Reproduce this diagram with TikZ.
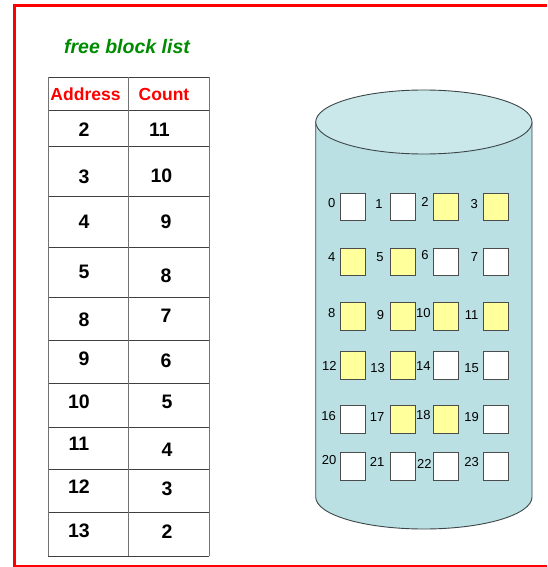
\documentclass[tikz,border=0pt]{standalone}
\usepackage{fontspec}
\setmainfont{Liberation Sans}
\definecolor{frame}{RGB}{255,0,0}
\definecolor{titlegreen}{RGB}{0,140,0}
\definecolor{cylbody}{RGB}{187,224,227}
\definecolor{cyltop}{RGB}{202,232,234}
\definecolor{paleyel}{RGB}{255,255,155}
\definecolor{cyledge}{RGB}{60,70,72}
\begin{document}
\begin{tikzpicture}[x=1pt,y=-1pt,
  cell/.style={font=\fontsize{19.5}{19.5}\selectfont\bfseries, inner sep=0pt, anchor=center},
  head/.style={font=\fontsize{17.5}{17.5}\selectfont\bfseries, text=frame, inner sep=0pt},
  blk/.style={draw=black!70, line width=0.8pt, minimum width=25pt, minimum height=27.5pt, inner sep=0pt, fill=white},
  used/.style={blk, fill=paleyel},
  lab/.style={font=\fontsize{13}{13}\selectfont, inner sep=0pt},
  grid/.style={draw=black!75, line width=0.9pt}]
\useasboundingbox (0,0) rectangle (547,567);
\fill[white] (0,0) rectangle (547,567);
% red frame
\draw[frame, line width=3pt] (547,5.5) -- (14.7,5.5) -- (14.7,565.7);
\draw[frame, line width=1.6pt] (13.2,565.7) -- (547,565.7);
% title
\node[font=\fontsize{19.5}{19.5}\selectfont\bfseries\itshape, text=titlegreen, inner sep=0pt] (title) at (127,47) {free block list};
% table grid
\foreach \yy in {77,110,146,196,247,297,340,383,427,469,512,556}
  \draw[grid] (48,\yy) -- (209,\yy);
\foreach \xx in {48,128.7,209}
  \draw[grid, draw=black!55] (\xx,77) -- (\xx,556);
\node[head] (hA) at (85.5,94) {Address};
\node[head] (hC) at (164,94) {Count};
\node[cell] (a1) at (84,130) {2};   \node[cell] (c1) at (159.5,130) {11};
\node[cell] (a2) at (84,177) {3};   \node[cell] (c2) at (161.5,176) {10};
\node[cell] (a3) at (84,221.5) {4}; \node[cell] (c3) at (166,222) {9};
\node[cell] (a4) at (84,272) {5};   \node[cell] (c4) at (166,275.5) {8};
\node[cell] (a5) at (84,320) {8};   \node[cell] (c5) at (166,316) {7};
\node[cell] (a6) at (84,359) {9};   \node[cell] (c6) at (166,361) {6};
\node[cell] (a7) at (79,401.5) {10}; \node[cell] (c7) at (167,401.5) {5};
\node[cell] (a8) at (79,444) {11};  \node[cell] (c8) at (167,450) {4};
\node[cell] (a9) at (79,486.5) {12}; \node[cell] (c9) at (167,489) {3};
\node[cell] (a10) at (79,531) {13}; \node[cell] (c10) at (167,532) {2};
% cylinder
\path[fill=cylbody, draw=cyledge, line width=0.9pt] (315.7,122) -- (315.7,497)
  arc[start angle=180, end angle=0, x radius=108.15, y radius=32] -- (532,122);
\path[fill=cyltop, draw=cyledge, line width=0.9pt] (423.85,122) ellipse[x radius=108.15, y radius=32];
% blocks
\node[blk]  (b0)  at (353,207) {};
\node[blk]  (b1)  at (402.7,207) {};
\node[used] (b2)  at (446,207) {};
\node[used] (b3)  at (496,207) {};
\node[used] (b4)  at (353,262) {};
\node[used] (b5)  at (402.7,262) {};
\node[blk]  (b6)  at (446,262) {};
\node[blk]  (b7)  at (496,262) {};
\node[used] (b8)  at (353,316.5) {};
\node[used] (b9)  at (402.7,316.5) {};
\node[used] (b10) at (446,316.5) {};
\node[used] (b11) at (496,316.5) {};
\node[used] (b12) at (353,365.3) {};
\node[used] (b13) at (402.7,365.3) {};
\node[blk]  (b14) at (446,365.3) {};
\node[blk]  (b15) at (496,365.3) {};
\node[blk]  (b16) at (353,419.5) {};
\node[used] (b17) at (402.7,419.5) {};
\node[used] (b18) at (446,419.5) {};
\node[blk]  (b19) at (496,419.5) {};
\node[blk]  (b20) at (353,466.5) {};
\node[blk]  (b21) at (402.7,466.5) {};
\node[blk]  (b22) at (446,466.5) {};
\node[blk]  (b23) at (496,466.5) {};
% block labels
\node[lab] (l0)  at (331.7,203) {0};
\node[lab] (l1)  at (379,204) {1};
\node[lab] (l2)  at (425,201.7) {2};
\node[lab] (l3)  at (474.3,204) {3};
\node[lab] (l4)  at (331.7,256.7) {4};
\node[lab] (l5)  at (380,257) {5};
\node[lab] (l6)  at (425,255) {6};
\node[lab] (l7)  at (474.5,257) {7};
\node[lab] (l8)  at (331.7,313) {8};
\node[lab] (l9)  at (380.5,315) {9};
\node[lab] (l10) at (423.3,312.7) {10};
\node[lab] (l11) at (471.7,315.3) {11};
\node[lab] (l12) at (329.3,366) {12};
\node[lab] (l13) at (377.7,367.7) {13};
\node[lab] (l14) at (423.3,365.7) {14};
\node[lab] (l15) at (471.7,367.7) {15};
\node[lab] (l16) at (328.7,415.7) {16};
\node[lab] (l17) at (377,417.3) {17};
\node[lab] (l18) at (423.3,415) {18};
\node[lab] (l19) at (471.7,417.3) {19};
\node[lab] (l20) at (329,460) {20};
\node[lab] (l21) at (377,462.3) {21};
\node[lab] (l22) at (424.3,464) {22};
\node[lab] (l23) at (471.7,461.7) {23};
\end{tikzpicture}
\end{document}
